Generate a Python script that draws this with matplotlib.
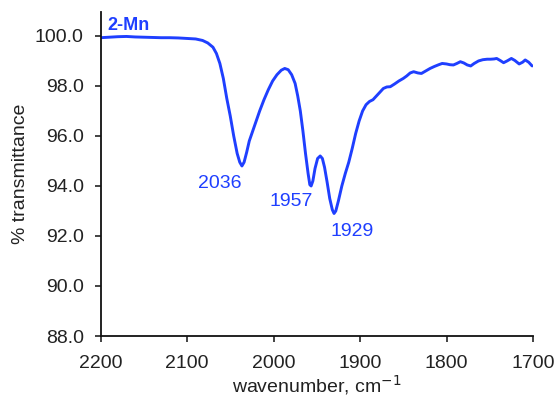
import matplotlib
matplotlib.use("Agg")
import matplotlib.pyplot as plt

plt.rcParams['font.family'] = ['Liberation Sans', 'DejaVu Sans']

wavenumber = [2200, 2190, 2180, 2170, 2160, 2150, 2140, 2130, 2120, 2110, 2100, 2090, 2082, 2076,
              2070, 2066, 2062, 2058, 2054, 2050, 2046, 2042, 2039, 2036.5, 2034, 2031, 2028, 2025,
              2021, 2016, 2011, 2006, 2001, 1996, 1991, 1987, 1983, 1979, 1975, 1972, 1969, 1966,
              1963, 1960, 1958, 1956.5, 1954.5, 1952, 1949, 1946, 1943.5, 1941, 1938, 1935, 1932,
              1930, 1928, 1925, 1921, 1917, 1913, 1909, 1905, 1901, 1897, 1893, 1889, 1885, 1881,
              1877, 1873, 1869, 1865, 1860, 1855, 1850, 1846, 1842, 1838, 1833, 1829, 1824, 1819,
              1814, 1809, 1805, 1800, 1796, 1792, 1788, 1784, 1780, 1776, 1772, 1768, 1763, 1758,
              1753, 1749, 1745, 1742, 1738, 1734, 1730, 1725, 1721, 1716, 1712, 1709, 1705, 1701]
transmittance = [99.93, 99.95, 99.97, 99.98, 99.96, 99.95, 99.94, 99.93, 99.93, 99.92, 99.90, 99.88, 99.82, 99.72,
                 99.55, 99.30, 98.90, 98.30, 97.50, 96.80, 96.00, 95.30, 94.95, 94.80, 94.95, 95.35, 95.80, 96.10,
                 96.50, 97.00, 97.45, 97.85, 98.20, 98.45, 98.63, 98.70, 98.65, 98.45, 98.10, 97.60, 97.00, 96.20,
                 95.30, 94.50, 94.05, 94.00, 94.20, 94.70, 95.10, 95.20, 95.10, 94.75, 94.15, 93.50, 93.05,
                 92.90, 93.00, 93.40, 94.00, 94.50, 94.95, 95.50, 96.10, 96.60, 97.00, 97.25, 97.38, 97.45, 97.60,
                 97.75, 97.90, 97.96, 97.97, 98.08, 98.20, 98.30, 98.40, 98.52, 98.57, 98.52, 98.50, 98.60, 98.70,
                 98.78, 98.85, 98.90, 98.88, 98.85, 98.84, 98.90, 98.97, 98.92, 98.84, 98.80, 98.90, 99.00, 99.05,
                 99.07, 99.07, 99.08, 99.10, 99.02, 98.93, 99.00, 99.10, 99.02, 98.88, 98.95, 99.04, 98.95, 98.80]

peak_labels = ['2036', '1957', '1929']
peak_label_x = [2062, 1980, 1909]
peak_label_y = [94.08, 93.36, 92.16]

x_ticks = [2200, 2100, 2000, 1900, 1800, 1700]
y_ticks = [88.0, 90.0, 92.0, 94.0, 96.0, 98.0, 100.0]

blue = '#1f3fff'

fig = plt.figure(figsize=(5.57, 3.98), dpi=100)
ax = fig.add_axes([100.5 / 557, 1 - 336 / 398, (533 - 100.5) / 557, (336 - 11.7) / 398])

ax.plot(wavenumber, transmittance, color=blue, lw=2.1, solid_capstyle='round', solid_joinstyle='round')

ax.set_xlim(2200, 1700)
ax.set_ylim(88.0, 100.97)
ax.set_xticks(x_ticks)
ax.set_xticklabels([str(t) for t in x_ticks])
ax.set_yticks(y_ticks)
ax.set_yticklabels([f'{t:.1f}' for t in y_ticks])

for s in ['top', 'right']:
    ax.spines[s].set_visible(False)
for s in ['left', 'bottom']:
    ax.spines[s].set_linewidth(1.3)
    ax.spines[s].set_color('#111111')

ax.tick_params(axis='both', direction='out', length=4, width=1.1, colors='#111111',
               labelsize=14, labelcolor='#222222')
ax.tick_params(axis='x', pad=9.5)
ax.tick_params(axis='y', pad=8)

for lab, lx, ly in zip(peak_labels, peak_label_x, peak_label_y):
    ax.text(lx, ly, lab, color=blue, fontsize=14, ha='center', va='center')

ax.text(2192.5, 100.42, '2-Mn', color=blue, fontsize=13, fontweight='bold', ha='left', va='center')

ax.set_xlabel('wavenumber, cm$^{-1}$', fontsize=14, color='#222222', labelpad=1)
ax.set_ylabel('% transmittance', fontsize=14, color='#222222', labelpad=4)

fig.savefig('out.png', dpi=100)
